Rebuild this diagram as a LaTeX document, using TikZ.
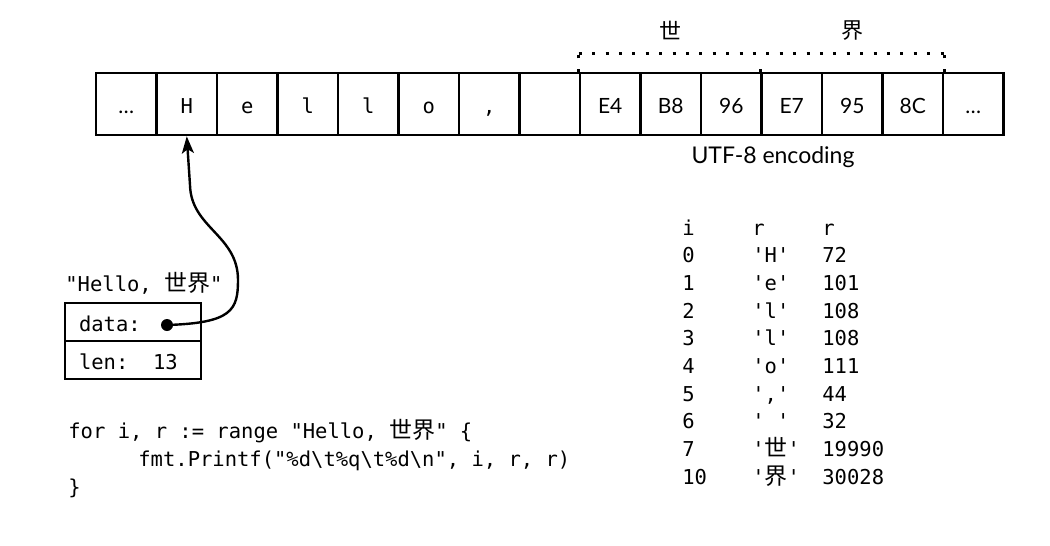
\documentclass[tikz,border=0pt]{standalone}
\usepackage{fontspec}
\setsansfont{Lato}
\setmonofont{DejaVu Sans Mono}
\newfontfamily\cjk{Noto Sans CJK SC}
\newcommand{\zh}[1]{{\fontsize{11.5}{12}\cjk #1}}
\usetikzlibrary{positioning}
\usetikzlibrary{arrows.meta}

\begin{document}
\begin{tikzpicture}[x=0.5pt,y=-0.5pt,
  cell/.style={rectangle,draw,line width=1.3pt,minimum width=30.25pt,minimum height=31pt,inner sep=0pt,text height=10pt,text depth=1pt},
  chr/.style={cell,font=\fontsize{10.25}{12}\ttfamily},
  byte/.style={cell,font=\fontsize{10.5}{12}\sffamily},
  field/.style={rectangle,draw,line width=1.3pt,outer sep=0pt,minimum height=19pt,inner xsep=7pt,text width=54pt,align=left,text height=10pt,text depth=1pt,font=\fontsize{10.25}{12}\ttfamily},
  code/.style={anchor=base west,inner sep=0pt,font=\fontsize{10.25}{12}\ttfamily},
  dots/.style={line width=1.5pt,dash pattern=on 1.5pt off 5.2pt}]

  \useasboundingbox (0,0) rectangle (1050,546);

  % Speicher
  \node[byte] (c1) at (126.25,104) {…};
  \foreach \t [count=\k from 2] in {H,e,l,l,o,{,},{}}
    \node[chr] (c\k) at (96+60.5*\k-30.25,104) {\t};
  \foreach \t [count=\k from 9] in {E4,B8,96,E7,95,8C,…}
    \node[byte] (c\k) at (96+60.5*\k-30.25,104) {\t};

  % UTF-8 Bytes
  \draw[dots] ([yshift=9pt]c9.north west) -- ([yshift=9pt]c14.north east);
  \draw[dots] (c9.north west) -- ([yshift=9pt]c9.north west);
  \draw[dots] (c12.north west) -- ([yshift=6pt]c12.north west);
  \draw[dots] (c14.north east) -- ([yshift=9pt]c14.north east);
  \node[font=\fontsize{11}{12}\cjk] (shi) [above=20.5pt of c10.north,anchor=center] {世};
  \node[font=\fontsize{11}{12}\cjk] (jie) [above=20.5pt of c13.north,anchor=center] {界};
  \node[font=\fontsize{11.5}{14}\sffamily] (utf) at (773,157) {UTF-8 encoding};

  % String-Header
  \node[field] (data) at (133,322) {data:};
  \node[field] (len) [below=0pt of data] {len:\hphantom{00}13};
  \node[code] (str) [above=6pt of data.north west,anchor=base west] {"Hello, \zh{世界}"};
  \node[circle,fill,inner sep=0pt,minimum size=6pt] (ptr) at (167,325) {};

  \draw[-{Stealth[length=8.5pt,width=6pt,inset=2pt]},line width=1.2pt] (ptr.center)
    .. controls (232,323) and (238,310) .. (238,280)
    .. controls (238,235) and (191,228) .. (190,185) -- (c2.south);

  % Code
  \node[code] (for) at (68,438) {for i, r := range "Hello, \zh{世界}" \{};
  \node[code] (body) at (138,466) {fmt.Printf("\%d\textbackslash t\%q\textbackslash t\%d\textbackslash n", i, r, r)};
  \node[code] (close) at (68,494) {\}};

  % Ausgabe
  \foreach \i/\r/\n [count=\k from 0] in {i/r/r, 0/'H'/72, 1/'e'/101, 2/'l'/108, 3/'l'/108, 4/'o'/111,
      {5/','/44}, 6/'\ '/32, 7/'\zh{世}'/19990, 10/'\zh{界}'/30028}
  {
    \node[code] (i\k) at (682,235+27.7*\k) {\i};
    \node[code] (r\k) at (752,235+27.7*\k) {\r};
    \node[code] (n\k) at (822,235+27.7*\k) {\n};
  }

\end{tikzpicture}
\end{document}
